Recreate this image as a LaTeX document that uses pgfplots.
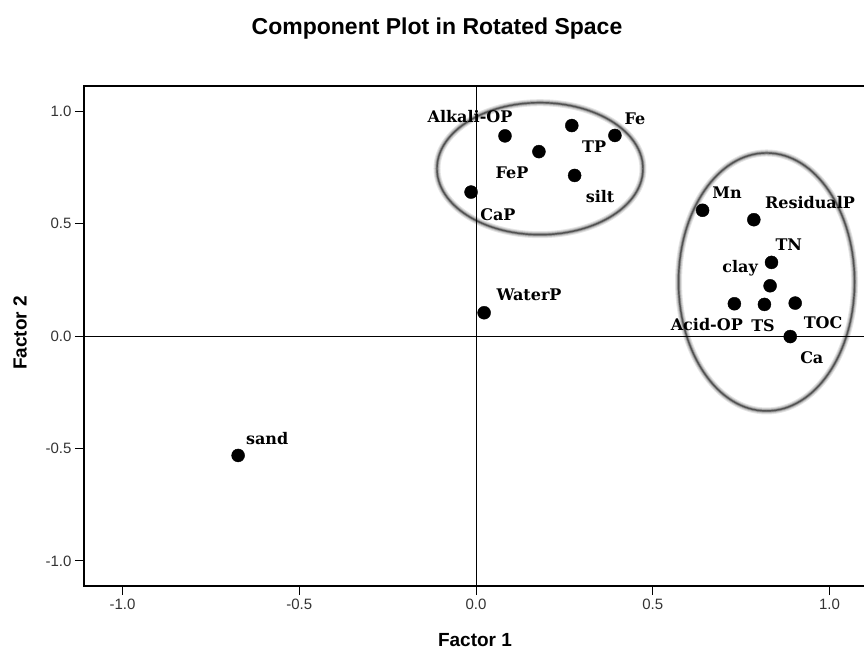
\documentclass[border=0pt]{standalone}
\usepackage{fontspec}
\setmainfont{Liberation Sans}
\newfontfamily\labelfont{DejaVu Serif}
\usepackage{pgfplots}
\pgfplotsset{compat=1.18}

% rotated component loadings (Factor 1, Factor 2)
\pgfplotstableread{
x      y      name
0.082  0.891  Alkali-OP
0.271  0.937  TP
0.393  0.893  Fe
0.178  0.821  FeP
0.279  0.715  silt
-0.014 0.641  CaP
0.641  0.560  Mn
0.786  0.518  ResidualP
0.836  0.328  TN
0.832  0.224  clay
0.731  0.144  Acid-OP
0.816  0.141  TS
0.903  0.147  TOC
0.889  -0.002 Ca
0.023  0.104  WaterP
-0.673 -0.531 sand
}\loadings

% soft grey ring around a cluster: center x, center y, x radius, y radius
\newcommand\clusterring[4]{%
  \draw[line width=7pt, draw=black!10] (axis cs:#1,#2) ellipse [x radius=#3, y radius=#4];
  \draw[line width=5pt, draw=black!22] (axis cs:#1,#2) ellipse [x radius=#3, y radius=#4];
  \draw[line width=3pt, draw=black!42] (axis cs:#1,#2) ellipse [x radius=#3, y radius=#4];
  \draw[line width=1.4pt, draw=black!68] (axis cs:#1,#2) ellipse [x radius=#3, y radius=#4];
}

\begin{document}
\begin{tikzpicture}
\begin{axis}[
  scale only axis,
  width=784pt, height=500pt,
  xmin=-1.109, xmax=1.109,
  ymin=-1.112, ymax=1.113,
  xtick={-1,-0.5,0,0.5,1},
  ytick={-1,-0.5,0,0.5,1},
  tick pos=left,
  tick align=outside,
  major tick length=9pt,
  tick style={black, line width=1pt},
  axis line style={black, line width=2pt},
  ticklabel style={font=\fontsize{15}{17}\selectfont, text=black!80},
  /pgf/number format/.cd, fixed, fixed zerofill, precision=1, assume math mode=true,
  /pgfplots/.cd,
  clip=false,
]
% cluster outlines
\clusterring{0.181}{0.745}{103pt}{66pt}
\clusterring{0.822}{0.241}{88pt}{129pt}
% reference lines through the origin
\draw[line width=0.9pt] (axis cs:0,-1.112) -- (axis cs:0,1.113);
\draw[line width=0.9pt] (axis cs:-1.109,0) -- (axis cs:1.109,0);

\addplot[only marks, mark=*, mark size=6.5pt, black] table[x=x, y=y] {\loadings};

\begin{scope}[every node/.style={font=\labelfont\bfseries\fontsize{16}{18}\selectfont, inner sep=0pt}]
\node at (axis cs:-0.017,0.976) {Alkali-OP};
\node at (axis cs:0.450,0.967) {Fe};
\node at (axis cs:0.334,0.842) {TP};
\node at (axis cs:0.102,0.727) {FeP};
\node at (axis cs:0.351,0.620) {silt};
\node at (axis cs:0.062,0.540) {CaP};
\node at (axis cs:0.710,0.638) {Mn};
\node at (axis cs:0.945,0.593) {ResidualP};
\node at (axis cs:0.885,0.407) {TN};
\node at (axis cs:0.747,0.300) {clay};
\node at (axis cs:0.653,0.051) {Acid-OP};
\node at (axis cs:0.812,0.047) {TS};
\node at (axis cs:0.982,0.060) {TOC};
\node at (axis cs:0.950,-0.096) {Ca};
\node at (axis cs:0.150,0.184) {WaterP};
\node at (axis cs:-0.591,-0.456) {sand};
\end{scope}
\end{axis}
\node[font=\bfseries\fontsize{23}{26}\selectfont, anchor=base] at (353pt,551pt) {Component Plot in Rotated Space};
\node[font=\bfseries\fontsize{19}{22}\selectfont, anchor=base] at (391pt,-60pt) {Factor 1};
\node[font=\bfseries\fontsize{19}{22}\selectfont, rotate=90] at (-64pt,253pt) {Factor 2};
\pgfresetboundingbox
\useasboundingbox (-84pt,-63pt) rectangle (780pt,586pt);
\end{tikzpicture}
\end{document}
